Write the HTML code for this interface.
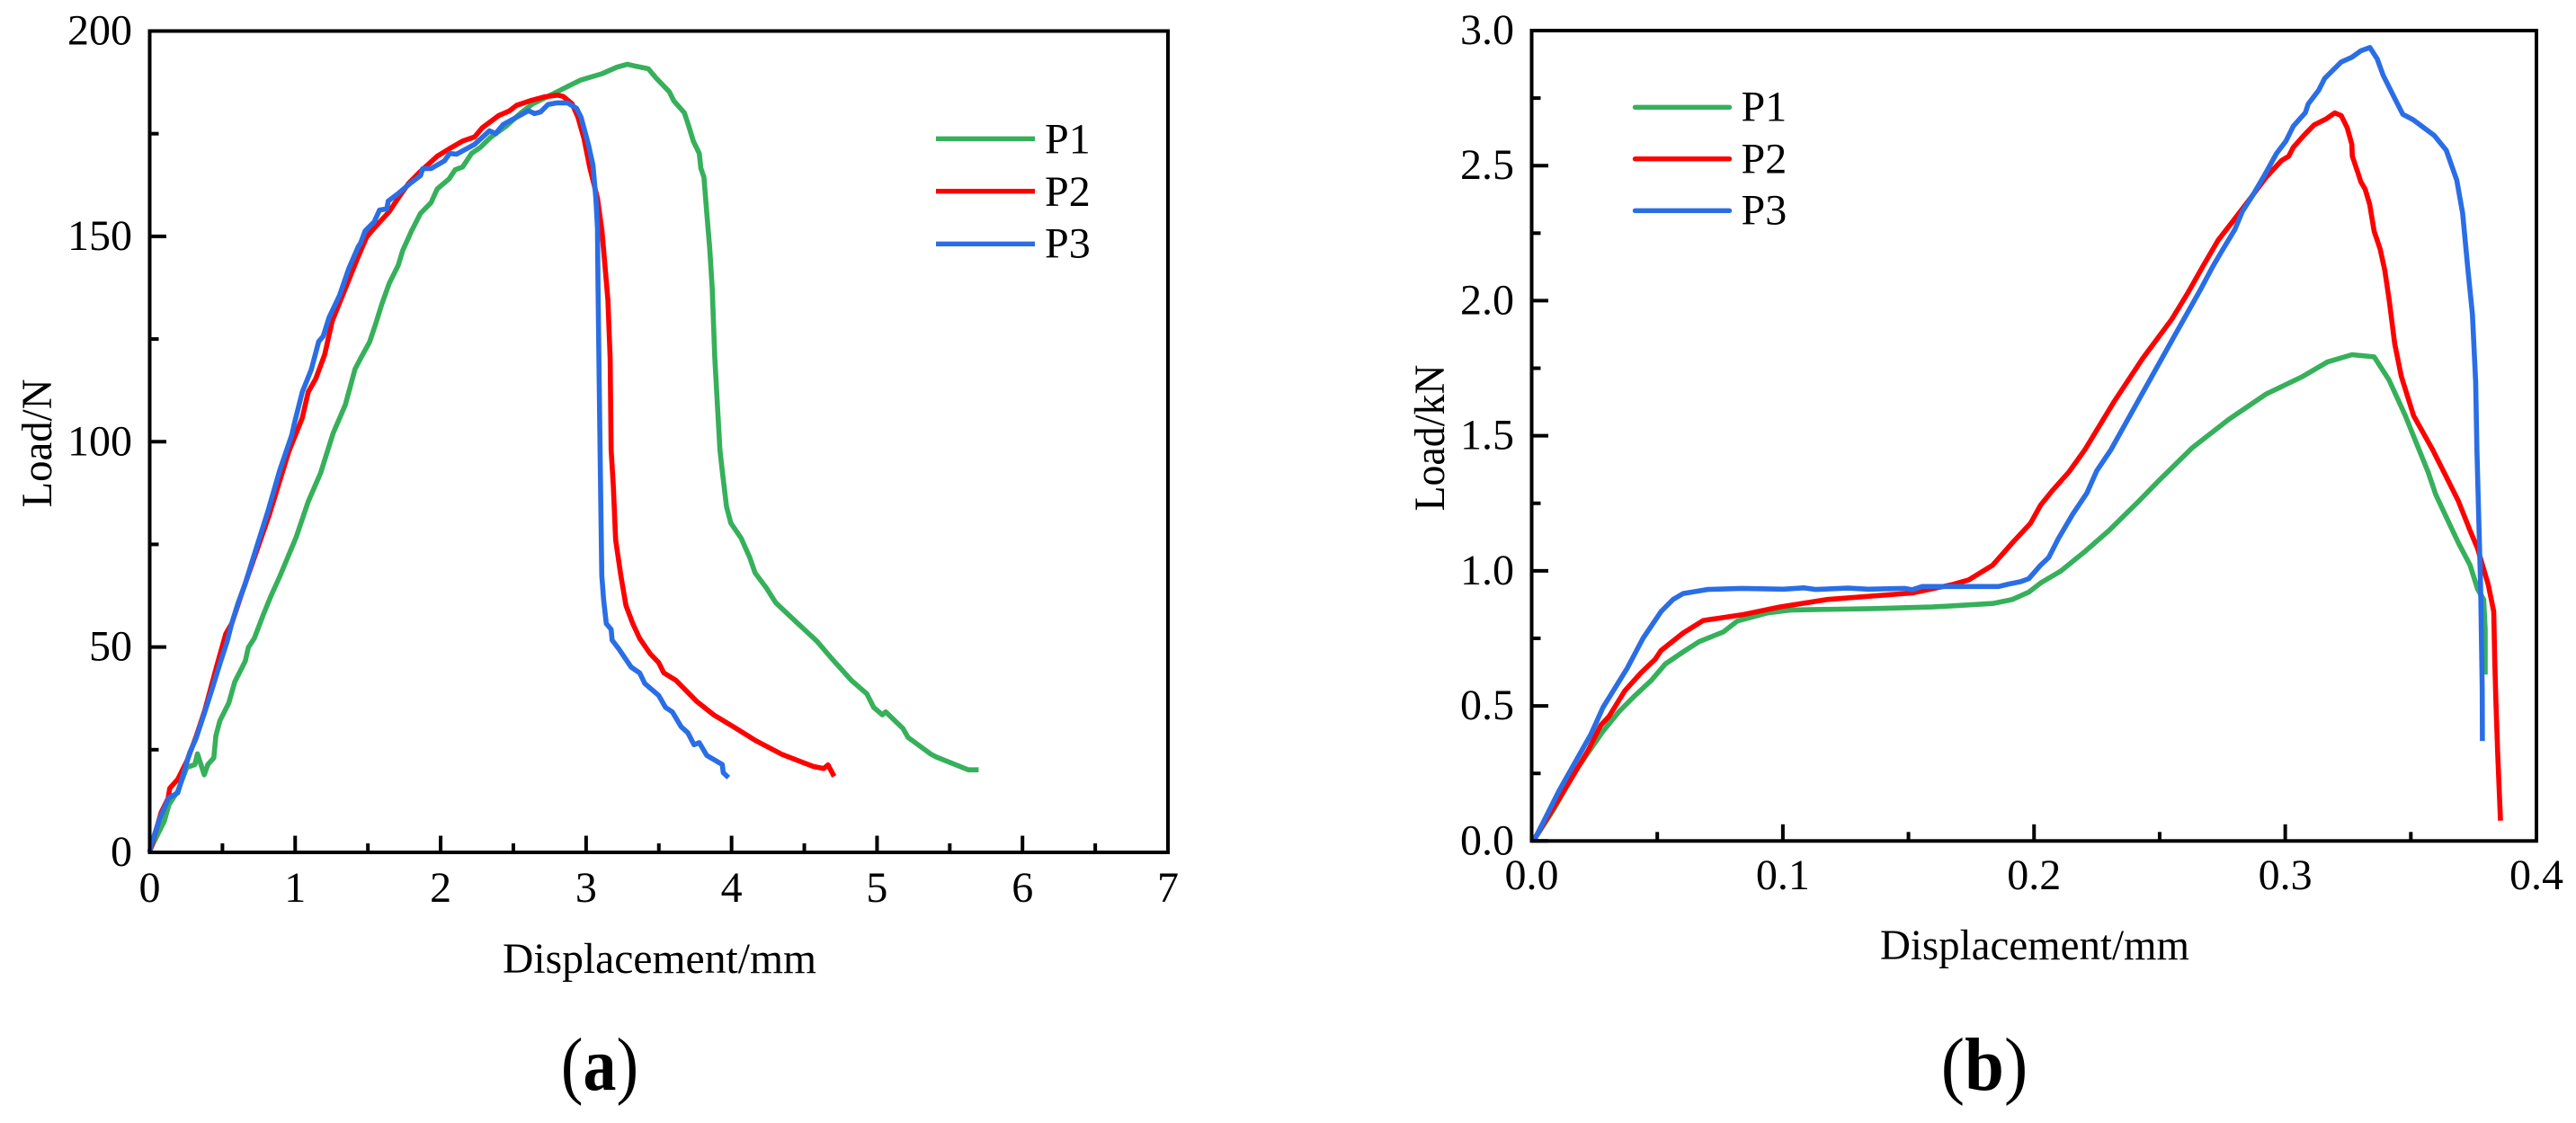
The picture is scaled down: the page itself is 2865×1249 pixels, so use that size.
<!DOCTYPE html>
<html lang="en">
<head>
<meta charset="utf-8">
<title>Load-displacement curves</title>
<style>
html,body{margin:0;padding:0;background:#fff;width:2865px;height:1249px;overflow:hidden}
svg{display:block}
text{font-family:"Liberation Serif","Times New Roman",serif;fill:#000}
</style>
</head>
<body>
<svg id="figure" xmlns="http://www.w3.org/2000/svg" width="2865" height="1249" viewBox="0 0 2865 1249"></svg>
<script>
// Panel (a) axis labels
const aXTickLabels = ["0","1","2","3","4","5","6","7"];
const aXTickValues = [0,1,2,3,4,5,6,7];
const aXMinorValues = [0.5,1.5,2.5,3.5,4.5,5.5,6.5];
const aYTickLabels = ["0","50","100","150","200"];
const aYTickValues = [0,50,100,150,200];
const aYMinorValues = [25,75,125,175];

// Panel (a) P1
const aP1Disp = [0,0.008,0.10,0.132,0.193,0.255,0.311,0.328,0.375,0.40,0.441,0.455,0.482,0.544,0.585,0.657,0.678,0.719,0.781,0.832,0.893,1.006,1.09,1.175,1.26,1.345,1.412,1.45,1.512,1.553,1.595,1.646,1.708,1.739,1.80,1.862,1.934,1.976,2.058,2.099,2.151,2.213,2.274,2.347,2.449,2.553,2.635,2.779,2.862,2.965,3.109,3.212,3.284,3.346,3.428,3.48,3.572,3.603,3.675,3.706,3.737,3.778,3.789,3.81,3.83,3.85,3.867,3.885,3.92,3.936,3.965,3.995,4.066,4.125,4.161,4.237,4.303,4.445,4.587,4.693,4.823,4.93,4.977,5.036,5.06,5.178,5.213,5.367,5.403,5.627,5.698];
const aP1Load = [0,1.0,7.6,11.6,14.9,20.7,21.4,24.0,18.9,21.4,23.0,28.4,32.0,36.4,41.5,46.6,49.9,52.1,57.9,62.3,67.1,76.7,85.4,92.4,102,109,117.7,120.3,124.3,128.7,133.4,138.5,142.9,146.5,151.3,155.6,158.2,161.5,164,166.2,166.9,170.2,171.7,174.2,176.8,180.1,182.3,184.8,186.3,188.1,189.6,191.2,191.9,191.4,190.8,188.6,185.2,183,180.1,176.8,173.2,170.2,166.6,164.4,155.6,146.9,137.4,120.3,98,92.9,84.2,80.2,76.5,71.8,68.1,64.5,60.8,56.1,51.4,47,41.9,38.6,35.3,33.5,34.2,30.2,28,24,23.3,20.1,20.1];

// Panel (a) P2
const aP2Disp = [0,0.008,0.08,0.126,0.138,0.193,0.255,0.317,0.379,0.462,0.523,0.564,0.626,0.678,0.822,0.956,1.049,1.09,1.141,1.203,1.255,1.337,1.43,1.491,1.543,1.646,1.708,1.78,1.852,1.976,2.058,2.151,2.233,2.285,2.398,2.47,2.522,2.614,2.718,2.8,2.841,2.903,2.944,2.985,3.026,3.078,3.109,3.129,3.15,3.165,3.172,3.187,3.203,3.239,3.274,3.321,3.368,3.44,3.499,3.534,3.617,3.759,3.877,4.031,4.161,4.35,4.563,4.634,4.663,4.705];
const aP2Load = [0,1.0,9.8,13.1,15.6,17.8,22.2,28,34.6,45.5,53.2,55.7,62.3,67.6,82.2,97.6,105.8,112.1,115.3,121.2,129.4,136.6,144.8,149.8,152,156,159.3,162.9,165.5,169.5,171.3,173.2,174.2,176.4,179.4,180.5,181.9,183,184,184.4,184.1,182.3,179,173.9,166.6,159.3,151.3,143.2,134.5,120.3,98,89.3,76.1,67.4,60.1,55.7,52.1,48.4,46.2,43.7,41.9,36.8,33.5,30.2,27.3,23.8,20.9,20.4,21.3,18.5];

// Panel (a) P3
const aP3Disp = [0,0.008,0.07,0.132,0.193,0.276,0.317,0.379,0.431,0.482,0.533,0.564,0.606,0.657,0.74,0.812,0.894,0.977,0.997,1.049,1.11,1.162,1.193,1.234,1.306,1.368,1.434,1.45,1.481,1.543,1.58,1.63,1.64,1.708,1.79,1.862,1.877,1.934,2.027,2.062,2.109,2.233,2.336,2.378,2.429,2.604,2.645,2.687,2.738,2.8,2.872,2.934,2.965,3.016,3.047,3.067,3.078,3.082,3.088,3.096,3.101,3.108,3.12,3.139,3.172,3.179,3.226,3.31,3.368,3.404,3.499,3.546,3.593,3.653,3.70,3.742,3.778,3.83,3.936,3.943,3.979];
const aP3Load = [0,1.7,8.3,13.3,14.5,24.4,27.6,34.2,40,45.9,51.4,55.7,60.5,65.5,74.9,83,93,101.7,104.8,112.1,117.5,124.4,125.7,130.3,135.7,142.1,147.5,148.4,151.3,153.5,156.4,156.7,158.6,160.4,162.9,164.8,166.5,166.5,168.4,170.2,170,172.4,175.7,175,177.2,180.6,179.9,180.3,182.1,182.5,182.5,181.2,179,172.4,167.3,159.3,152,138.1,120.3,98,84.9,67.4,61.6,55.7,54.3,51.7,49.5,45.1,43.7,41.1,38.2,35.3,34.2,30.6,29.1,26.2,26.7,23.6,21.4,19.4,18.2];

// Panel (b) axis labels
const bXTickLabels = ["0.0","0.1","0.2","0.3","0.4"];
const bXTickValues = [0,0.1,0.2,0.3,0.4];
const bXMinorValues = [0.05,0.15,0.25,0.35];
const bYTickLabels = ["0.0","0.5","1.0","1.5","2.0","2.5","3.0"];
const bYTickValues = [0,0.5,1,1.5,2,2.5,3];
const bYMinorValues = [0.25,0.75,1.25,1.75,2.25,2.75];

// Panel (b) P1
const bP1Disp = [0,0.0015,0.0092,0.0172,0.0284,0.0347,0.0412,0.0476,0.0532,0.0603,0.0667,0.0763,0.0819,0.0939,0.1035,0.1355,0.1595,0.1835,0.1914,0.1979,0.2026,0.2106,0.2202,0.2298,0.2418,0.2498,0.2629,0.2776,0.2923,0.307,0.3168,0.3266,0.3354,0.3413,0.3478,0.3533,0.3569,0.3599,0.3641,0.3689,0.3736,0.3766,0.379,0.3796,0.3796];
const bP1Load = [0,0.012,0.123,0.256,0.406,0.478,0.539,0.594,0.655,0.70,0.738,0.774,0.814,0.844,0.855,0.86,0.866,0.879,0.894,0.921,0.955,0.999,1.071,1.149,1.259,1.335,1.455,1.561,1.654,1.72,1.773,1.80,1.792,1.707,1.574,1.448,1.365,1.282,1.199,1.104,1.021,0.932,0.894,0.783,0.616];

// Panel (b) P2
const bP2Disp = [0,0.0015,0.0076,0.0156,0.0227,0.0275,0.0308,0.0371,0.0435,0.0491,0.0515,0.0603,0.0683,0.0843,0.0987,0.1179,0.1515,0.1674,0.1739,0.1835,0.1914,0.1986,0.2026,0.2074,0.2138,0.2202,0.2319,0.2433,0.2547,0.2613,0.2674,0.2733,0.2793,0.2853,0.2924,0.2984,0.3014,0.3032,0.3074,0.3115,0.3163,0.3197,0.3223,0.3247,0.3265,0.3267,0.3289,0.3301,0.3318,0.3336,0.3354,0.3378,0.3396,0.3414,0.3436,0.3462,0.3511,0.3587,0.3641,0.3689,0.3736,0.3766,0.3808,0.383,0.3834,0.3839,0.3846,0.3857];
const bP2Load = [0,0.014,0.106,0.228,0.339,0.428,0.461,0.556,0.622,0.672,0.705,0.77,0.816,0.838,0.866,0.894,0.918,0.949,0.966,1.021,1.104,1.176,1.243,1.298,1.365,1.448,1.627,1.787,1.93,2.03,2.13,2.224,2.296,2.369,2.457,2.518,2.535,2.568,2.612,2.651,2.673,2.695,2.685,2.64,2.579,2.535,2.474,2.44,2.413,2.357,2.257,2.191,2.113,2.0,1.84,1.72,1.574,1.448,1.348,1.259,1.149,1.082,0.949,0.849,0.672,0.506,0.317,0.075];

// Panel (b) P3
const bP3Disp = [0,0.0015,0.0108,0.0236,0.0284,0.038,0.0443,0.0515,0.0563,0.0603,0.07,0.0835,0.1003,0.1083,0.1131,0.1259,0.1339,0.1483,0.1515,0.1555,0.1675,0.1859,0.1899,0.1947,0.1979,0.2026,0.2058,0.2098,0.2154,0.221,0.225,0.2306,0.2433,0.2547,0.2662,0.271,0.2745,0.2799,0.2829,0.2871,0.2913,0.2966,0.3002,0.3032,0.308,0.3092,0.3133,0.3157,0.3223,0.3265,0.3301,0.3337,0.3366,0.339,0.3438,0.3468,0.3509,0.3593,0.3641,0.3683,0.3706,0.3727,0.3745,0.3758,0.3763,0.3772,0.3778,0.3784,0.3785];
const bP3Load = [0,0.012,0.184,0.395,0.494,0.639,0.75,0.849,0.894,0.916,0.931,0.935,0.932,0.937,0.931,0.936,0.932,0.935,0.93,0.942,0.942,0.942,0.951,0.96,0.971,1.021,1.049,1.121,1.21,1.287,1.371,1.448,1.66,1.85,2.04,2.124,2.18,2.263,2.33,2.391,2.457,2.546,2.59,2.646,2.696,2.729,2.779,2.823,2.884,2.901,2.925,2.937,2.895,2.834,2.745,2.69,2.67,2.612,2.557,2.446,2.324,2.119,1.95,1.7,1.448,1.138,0.927,0.561,0.37];

const seriesNames = ["P1","P2","P3"];
const seriesColors = ["#36B05A","#FF0000","#2A6EE6"];

const NS = "http://www.w3.org/2000/svg";
const root = document.getElementById("figure");

function make(tag, attrs, parent) {
  const el = document.createElementNS(NS, tag);
  for (const k in attrs) el.setAttribute(k, attrs[k]);
  parent.appendChild(el);
  return el;
}
function scale(d0, d1, r0, r1) {
  return function (v) { return r0 + (v - d0) / (d1 - d0) * (r1 - r0); };
}
function drawTicks(group, axis, values, len, sx, sy, left, bottom, kind) {
  values.forEach(function (v) {
    const attrs = axis === "x"
      ? {x1: sx(v), x2: sx(v), y1: bottom, y2: bottom - len}
      : {x1: left, x2: left + len, y1: sy(v), y2: sy(v)};
    attrs.stroke = "#000";
    attrs["stroke-width"] = 4;
    const t = make("line", attrs, group);
    
    
  });
}
function drawLabel(group, str, x, y, size, anchor, name) {
  const t = make("text", {x: x, y: y, "font-size": size, "text-anchor": anchor}, group);
  t.textContent = str;
  
  
  return t;
}
function drawPanel(cfg) {
  const g = make("g", {}, root);
  
  
  const sx = scale(cfg.xDomain[0], cfg.xDomain[1], cfg.left, cfg.right);
  const sy = scale(cfg.yDomain[0], cfg.yDomain[1], cfg.bottom, cfg.top);

  cfg.series.forEach(function (s, i) {
    const pts = s.disp.map(function (d, j) {
      return sx(d).toFixed(1) + "," + sy(s.load[j]).toFixed(1);
    }).join(" ");
    const line = make("polyline", {points: pts, fill: "none", stroke: seriesColors[i], "stroke-width": 5.6, "stroke-linejoin": "round", "stroke-linecap": "butt"}, g);
    
    
  });

  const frame = make("rect", {x: cfg.left, y: cfg.top, width: cfg.right - cfg.left, height: cfg.bottom - cfg.top, fill: "none", stroke: "#000", "stroke-width": 4}, g);
  
  

  drawTicks(g, "x", cfg.xTicks, 18.5, sx, sy, cfg.left, cfg.bottom, "major");
  drawTicks(g, "x", cfg.xMinor, 10, sx, sy, cfg.left, cfg.bottom, "minor");
  drawTicks(g, "y", cfg.yTicks, 18.5, sx, sy, cfg.left, cfg.bottom, "major");
  drawTicks(g, "y", cfg.yMinor, 10, sx, sy, cfg.left, cfg.bottom, "minor");

  cfg.xTicks.forEach(function (v, i) {
    drawLabel(g, cfg.xLabels[i], sx(v), cfg.xLabelY, 48, "middle", "x-tick-label");
  });
  cfg.yTicks.forEach(function (v, i) {
    drawLabel(g, cfg.yLabels[i], cfg.yLabelRight, sy(v) + 15, 48, "end", "y-tick-label");
  });

  const xt = drawLabel(g, "Displacement/mm", cfg.xTitleX, cfg.xTitleY, 48, "middle", "x-axis-title");
  xt.setAttribute("textLength", cfg.xTitleLen);
  xt.setAttribute("lengthAdjust", "spacingAndGlyphs");

  const yt = drawLabel(g, cfg.yTitle, 0, 0, 48, "middle", "y-axis-title");
  yt.setAttribute("transform", "translate(" + cfg.yTitleX + "," + cfg.yTitleY + ") rotate(-90)");
  yt.setAttribute("textLength", cfg.yTitleLen);
  yt.setAttribute("lengthAdjust", "spacingAndGlyphs");

  seriesNames.forEach(function (n, i) {
    const ly = cfg.legendY[i];
    const lg = make("g", {}, g);
    
    
    make("line", {x1: cfg.legendX[0], x2: cfg.legendX[1], y1: ly, y2: ly, stroke: seriesColors[i], "stroke-width": 5.4, "stroke-linecap": cfg.legendCap}, lg);
    drawLabel(lg, n, cfg.legendTextX, cfg.legendBase[i], 48, "start", "legend-label");
  });

  const cap = make("text", {x: 0, y: 0, "font-size": 84, "text-anchor": "middle", transform: "translate(" + cfg.capX + ",1212) scale(" + cfg.capScale + ",1)"}, g);
  
  
  make("tspan", {}, cap).textContent = "(";
  make("tspan", {"font-weight": "bold"}, cap).textContent = cfg.capLetter;
  make("tspan", {}, cap).textContent = ")";
}

drawPanel({
  name: "panel-a-chart",
  left: 166.5, right: 1299, top: 34.5, bottom: 948,
  xDomain: [0, 7], yDomain: [0, 200],
  xTicks: aXTickValues, xMinor: aXMinorValues, xLabels: aXTickLabels,
  yTicks: aYTickValues, yMinor: aYMinorValues, yLabels: aYTickLabels,
  xLabelY: 1003, yLabelRight: 147,
  xTitleX: 733.5, xTitleY: 1082, xTitleLen: 349,
  yTitle: "Load/N", yTitleX: 57, yTitleY: 493, yTitleLen: 143,
  legendX: [1041, 1151], legendY: [154.3, 212.7, 271.3], legendCap: "butt",
  legendTextX: 1162, legendBase: [170.7, 229, 286.7],
  capX: 667, capScale: 0.88, capLetter: "a",
  series: [{disp: aP1Disp, load: aP1Load}, {disp: aP2Disp, load: aP2Load}, {disp: aP3Disp, load: aP3Load}]
});

drawPanel({
  name: "panel-b-chart",
  left: 1703.5, right: 2821, top: 34, bottom: 935.3,
  xDomain: [0, 0.4], yDomain: [0, 3],
  xTicks: bXTickValues, xMinor: bXMinorValues, xLabels: bXTickLabels,
  yTicks: bYTickValues, yMinor: bYMinorValues, yLabels: bYTickLabels,
  xLabelY: 989, yLabelRight: 1684,
  xTitleX: 2263, xTitleY: 1067, xTitleLen: 344,
  yTitle: "Load/kN", yTitleX: 1606, yTitleY: 487, yTitleLen: 163,
  legendX: [1818.5, 1923.5], legendY: [119.3, 176.7, 234.3], legendCap: "round",
  legendTextX: 1936.5, legendBase: [134.3, 192.7, 249.3],
  capX: 2207, capScale: 0.94, capLetter: "b",
  series: [{disp: bP1Disp, load: bP1Load}, {disp: bP2Disp, load: bP2Load}, {disp: bP3Disp, load: bP3Load}]
});
</script>
</body>
</html>
